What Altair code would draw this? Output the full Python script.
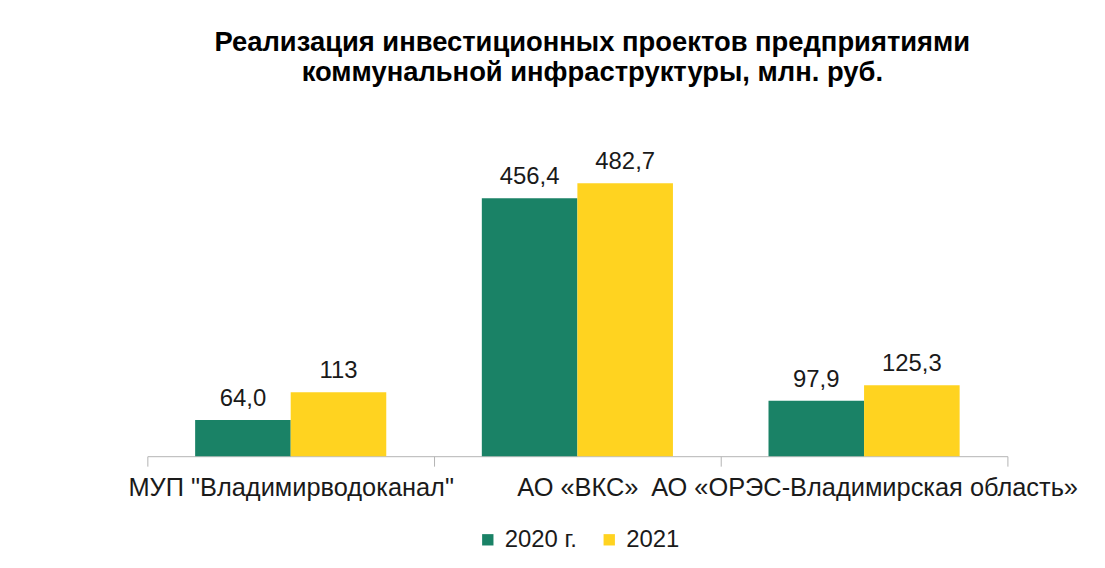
import altair as alt
import pandas as pd

companies = ['МУП "Владимирводоканал"', "АО «ВКС»", "АО «ОРЭС-Владимирская область»"]
years = ["2020 г.", "2021"]
values_2020 = [64.0, 456.4, 97.9]
values_2021 = [113.0, 482.7, 125.3]
labels_2020 = ["64,0", "456,4", "97,9"]
labels_2021 = ["113", "482,7", "125,3"]

rows = []
for i, c in enumerate(companies):
    rows.append({"company": c, "year": years[0], "value": values_2020[i], "label": labels_2020[i]})
    rows.append({"company": c, "year": years[1], "value": values_2021[i], "label": labels_2021[i]})
df = pd.DataFrame(rows)

FONT = "Liberation Sans"
colors = ["#1a8266", "#ffd320"]

x = alt.X(
    "company:N",
    sort=companies,
    scale=alt.Scale(paddingInner=0, paddingOuter=0),
    axis=alt.Axis(
        title=None, labelAngle=0, labelFontSize=25.5, labelFont=FONT, labelColor="#1a1a1a",
        labelLimit=600, labelOverlap=False, labelPadding=9,
        domainColor="#b3b3b3", tickColor="#b3b3b3", tickSize=10, tickBand="extent",
    ),
)
xoff = alt.XOffset("year:N", sort=years, scale=alt.Scale(paddingInner=0, paddingOuter=0.5))
y = alt.Y("value:Q", scale=alt.Scale(domain=[0, 500], nice=False), axis=None)

bars = alt.Chart(df).mark_bar().encode(
    x=x, xOffset=xoff, y=y,
    color=alt.Color(
        "year:N", sort=years,
        scale=alt.Scale(domain=years, range=colors),
        legend=alt.Legend(
            title=None, orient="none", direction="horizontal", legendX=330, legendY=356,
            labelFontSize=24, labelFont=FONT, labelColor="#1a1a1a",
            symbolType="square", symbolSize=130, symbolStrokeWidth=0,
            columnPadding=20, labelOffset=5,
        ),
    ),
)

texts = alt.Chart(df).mark_text(
    baseline="alphabetic", dy=-14, fontSize=24, font=FONT, color="#1a1a1a"
).encode(x=x, xOffset=xoff, y=y, text="label:N")

chart = alt.layer(bars, texts).properties(
    width=864, height=284,
    padding={"left": 140, "top": 165, "right": 90, "bottom": 95},
    autosize=alt.AutoSizeParams(type="none"),
    title=alt.TitleParams(
        ["Реализация инвестиционных проектов предприятиями", "коммунальной инфраструктуры, млн. руб."],
        font=FONT, fontSize=27.5, fontWeight="bold", color="#000000",
        anchor="middle", dx=15, offset=64, lineHeight=30,
    ),
).configure_view(stroke=None)

chart.save("out.html", embed_options={"renderer": "svg", "actions": False})
